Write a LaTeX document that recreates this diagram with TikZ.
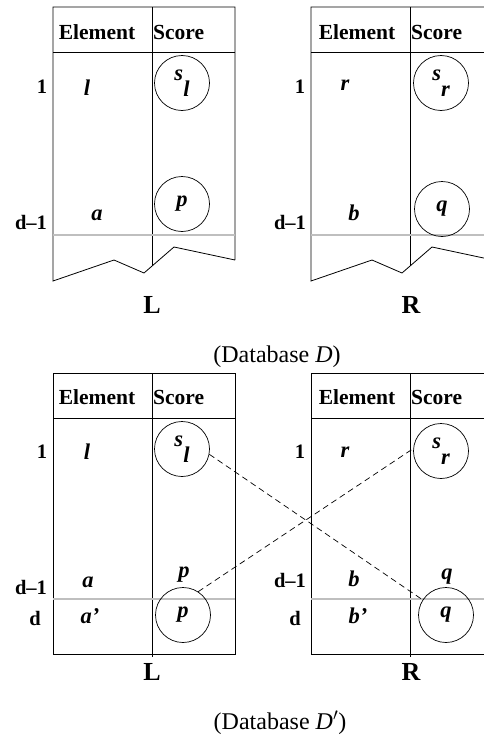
\documentclass[tikz,border=0pt]{standalone}
\usepackage{fontspec}
\setmainfont{Liberation Serif}
\usetikzlibrary{positioning}
\tikzset{
  rule/.style={draw=black, line width=0.8pt},
  divider/.style={draw=black!25, line width=1.3pt},
  header/.style={font=\fontsize{21.5}{23}\selectfont\bfseries, inner sep=0pt},
  rank/.style={font=\fontsize{20.5}{22}\selectfont\bfseries, inner sep=0pt},
  item/.style={font=\fontsize{22.5}{24}\selectfont\bfseries\itshape, inner sep=0pt},
  score/.style={circle, draw, line width=0.7pt, minimum size=55pt, inner sep=0pt,
    font=\fontsize{22.5}{24}\selectfont\bfseries\itshape},
  relname/.style={font=\fontsize{26}{28}\selectfont\bfseries, inner sep=0pt},
  dbname/.style={font=\fontsize{24}{26}\selectfont, inner sep=0pt},
  swap/.style={dash pattern=on 6pt off 4pt, line width=0.7pt}
}
\newcommand{\lowsub}[2]{#1\raisebox{-0.7em}{#2}}

\begin{document}
\begin{tikzpicture}[x=1pt,y=-1pt]
        \useasboundingbox (0,0) rectangle (484,736);
        \clip (0,0) rectangle (484,736);
        \draw[rule] (235,260) -- (235,7) -- (53,7) -- (53,281) -- (114,260) -- (144,273) -- (174,247) -- (235,260);
        \draw[rule] (152,7) -- (152,266);
        \draw[rule] (53,52) -- (235,52);
        \draw[divider] (53,235) -- (235,235);
        \node[header] (elemL) at (97,32) {Element};
        \node[header,anchor=west] (scoreL) at (153,32) {Score};
        \node[rank] (firstL) at (42,87) {1};
        \node[item] (l) at (87,88) {l};
        \node[score] (sl) at (182,83) {\lowsub{s}{l}};
        \node[rank] (prevL) at (31,222) {d--1};
        \node[item] (a) at (97,215) {a};
        \node[score] (p) at (182,204) {p};
        \node[relname] (nameL) at (152,305) {L};

        \draw[rule] (493,260) -- (493,7) -- (311,7) -- (311,281) -- (372,260) -- (402,273) -- (432,247) -- (493,260);
        \draw[rule] (410,7) -- (410,266);
        \draw[rule] (311,52) -- (493,52);
        \draw[divider] (311,235) -- (493,235);
        \node[header] (elemR) at (357,32) {Element};
        \node[header,anchor=west] (scoreR) at (411,32) {Score};
        \node[rank] (firstR) at (300,87) {1};
        \node[item] (r) at (345,85) {r};
        \node[score] (sr) at (441,83) {\lowsub{s}{r}};
        \node[rank] (prevR) at (290,222) {d--1};
        \node[item] (b) at (354,213) {b};
        \node[score] (q) at (442,209) {q};
        \node[relname] (nameR) at (411,305) {R};

        \node[dbname] (dbD) at (277,357) {(Database \textit{D})};

        \draw[rule] (53,373) rectangle (235,654);
        \draw[rule] (152,373) -- (152,657);
        \draw[rule] (53,418) -- (235,418);
        \draw[divider] (53,599) -- (235,599);
        \node[header] (elemL2) at (97,397) {Element};
        \node[header,anchor=west] (scoreL2) at (153,397) {Score};
        \node[rank] (firstL2) at (42,452) {1};
        \node[item] (l2) at (87,452) {l};
        \node[score] (sl2) at (182,449) {\lowsub{s}{l}};
        \node[rank] (prevL2) at (31,587) {d--1};
        \node[item] (a2) at (88,582) {a};
        \node[item] (p2) at (184,575) {p};
        \node[rank] (lastL2) at (35,618) {d};
        \node[item] (a3) at (90,616) {a'};
        \node[score] (pd) at (183,615) {p};
        \node[relname] (nameL2) at (152,672) {L};

        \draw[rule] (311,373) rectangle (493,654);
        \draw[rule] (410,373) -- (410,657);
        \draw[rule] (311,418) -- (493,418);
        \draw[divider] (311,599) -- (493,599);
        \node[header] (elemR2) at (357,397) {Element};
        \node[header,anchor=west] (scoreR2) at (411,397) {Score};
        \node[rank] (firstR2) at (300,452) {1};
        \node[item] (r2) at (345,452) {r};
        \node[score] (sr2) at (441,451) {\lowsub{s}{r}};
        \node[rank] (prevR2) at (290,580) {d--1};
        \node[item] (b2) at (354,579) {b};
        \node[item] (q2) at (447,577) {q};
        \node[rank] (lastR2) at (295,618) {d};
        \node[item] (b3) at (358,616) {b'};
        \node[score] (qd) at (446,615) {q};
        \node[relname] (nameR2) at (411,672) {R};

        \draw[swap] (sl2.-11) -- (qd.147);
        \draw[swap] (pd.57) -- (sr2.175);

        \node[dbname] (dbD2) at (280,723) {(Database \textit{D}$'$)};
      \end{tikzpicture}
\end{document}
